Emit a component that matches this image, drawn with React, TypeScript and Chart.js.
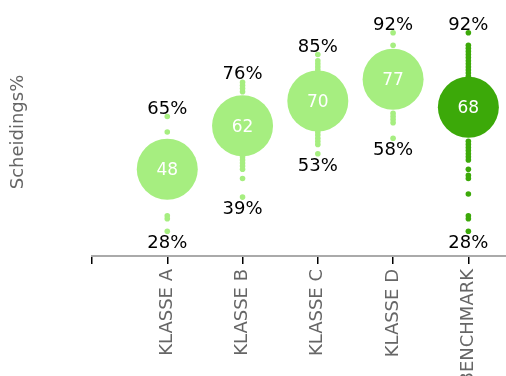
import { useEffect, useRef } from 'react';
import { Chart, registerables } from 'chart.js';

Chart.register(...registerables);
Chart.defaults.font.family = '"DejaVu Sans", sans-serif';

const categories = ['KLASSE A', 'KLASSE B', 'KLASSE C', 'KLASSE D', 'BENCHMARK'];
const medians = [48, 62, 70, 77, 68];
const klasseA = [65, 60, 48, 33, 32, 28];
const klasseB = [76, 75, 74, 73, 62, 52, 51, 50, 49, 48, 45, 39];
const klasseC = [85, 83, 82, 81, 80, 70, 60, 59, 58, 57, 56, 53];
const klasseD = [92, 88, 77, 66, 65, 64, 63, 58];
const benchmark = [92, 88, 87, 86, 85, 84, 83, 82, 81, 80, 79, 78, 68, 57, 56, 55, 54, 53, 52, 51, 48, 46, 45, 40, 33, 32, 28];
const series = [klasseA, klasseB, klasseC, klasseD, benchmark];
const yTitle = 'Scheidings%';

const LIGHT = '#a6ee80';
const DARK = '#3ca909';
const colorFor = (i: number) => (i === categories.length - 1 ? DARK : LIGHT);

const labelPlugin = {
  id: 'valueLabels',
  afterDatasetsDraw(chart: any) {
    const { ctx } = chart;
    const xs = chart.scales.x;
    const ys = chart.scales.y;
    ctx.save();
    ctx.textAlign = 'center';
    ctx.textBaseline = 'alphabetic';
    series.forEach((vals, i) => {
      const px = xs.getPixelForValue(i + 1);
      const mx = Math.max(...vals);
      const mn = Math.min(...vals);
      ctx.font = '18px "DejaVu Sans"';
      ctx.fillStyle = '#000';
      ctx.fillText(mx + '%', px, ys.getPixelForValue(mx) - 3);
      ctx.fillText(mn + '%', px, ys.getPixelForValue(mn) + 17);
      ctx.font = '17px "DejaVu Sans"';
      ctx.fillStyle = '#fff';
      ctx.fillText(String(medians[i]), px, ys.getPixelForValue(medians[i]) + 6);
    });
    ctx.restore();
  },
};

export default function App() {
  const ref = useRef<HTMLCanvasElement | null>(null);
  useEffect(() => {
    if (!ref.current) return;
    const medianDataset = {
      label: 'median',
      data: medians.map((v, i) => ({ x: i + 1, y: v })),
      pointRadius: 30.5,
      pointHoverRadius: 30.5,
      pointBackgroundColor: medians.map((_, i) => colorFor(i)),
      pointBorderWidth: 0,
      pointBorderColor: 'transparent',
    };
    const dotDatasets = series.map((vals, i) => ({
      label: categories[i],
      data: vals.map((v) => ({ x: i + 1, y: v })),
      pointRadius: 2.8,
      pointHoverRadius: 2.8,
      pointBackgroundColor: colorFor(i),
      pointBorderWidth: 0,
      pointBorderColor: 'transparent',
    }));
    const chart = new Chart(ref.current, {
      type: 'scatter',
      data: { datasets: [medianDataset, ...dotDatasets] as any },
      options: {
        animation: false,
        responsive: true,
        maintainAspectRatio: false,
        layout: { autoPadding: false, padding: { top: 8, left: 0, right: 0, bottom: 0 } },
        plugins: { legend: { display: false }, tooltip: { enabled: false } },
        scales: {
          x: {
            type: 'linear',
            position: 'bottom',
            min: 0,
            max: 5.5,
            afterBuildTicks: (s: any) => {
              s.ticks = s.ticks.filter((t: any) => Number.isInteger(t.value));
            },
            afterFit: (s: any) => {
              s.height = 120;
            },
            ticks: {
              stepSize: 1,
              autoSkip: false,
              maxRotation: 90,
              minRotation: 90,
              padding: 5,
              color: '#666',
              font: { size: 18 },
              callback: (v: any) => (v >= 1 && v <= categories.length ? categories[v - 1] : ''),
            },
            grid: {
              drawOnChartArea: false,
              drawTicks: true,
              tickLength: 8,
              color: '#000',
              lineWidth: 1.5,
            },
            border: { display: true, color: '#aaa', width: 2 },
          },
          y: {
            type: 'linear',
            min: 20,
            max: 100,
            afterFit: (s: any) => {
              s.width = 92;
            },
            ticks: { display: false },
            grid: { display: false },
            border: { display: false },
            title: {
              display: true,
              text: yTitle,
              color: '#666',
              font: { size: 18 },
              padding: { top: 8, bottom: 0 },
            },
          },
        },
      },
      plugins: [labelPlugin],
    });
    return () => chart.destroy();
  }, []);
  return (
    <div style={{ position: 'fixed', left: 0, top: 0, width: 506, height: 376 }}>
      <canvas ref={ref} />
    </div>
  );
}
